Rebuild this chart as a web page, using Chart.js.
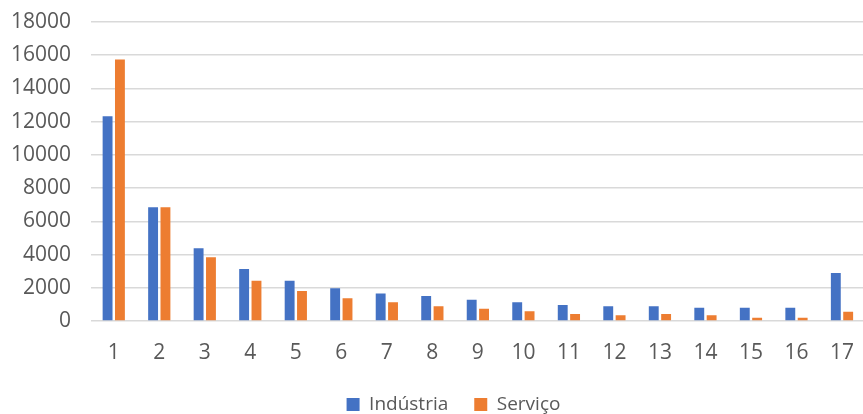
<!DOCTYPE html>
<html>
<head>
<meta charset="utf-8">
<script src="https://cdn.jsdelivr.net/npm/chart.js@4/dist/chart.umd.min.js"></script>
<style>
  html, body { margin: 0; padding: 0; background: #ffffff; overflow: hidden; }
  #wrap { width: 863px; height: 414px; overflow: hidden; }
  canvas { display: block; }
</style>
</head>
<body>
<div id="wrap"><canvas id="chart" width="873" height="414"></canvas></div>
<script>
// Categories along the x axis
const categories = ['1', '2', '3', '4', '5', '6', '7', '8', '9', '10', '11', '12', '13', '14', '15', '16', '17'];

// Series values
const industria = [12320, 6850, 4380, 3135, 2430, 1970, 1650, 1510, 1285, 1125, 965, 885, 885, 805, 805, 805, 2895];
const servico   = [15740, 6850, 3840, 2430, 1810, 1370, 1125, 885, 740, 585, 420, 345, 420, 345, 200, 200, 560];

// Series names
const seriesNames = ['Indústria', 'Serviço'];

// Value axis settings
const yMin = 0;
const yMax = 18000;
const yStep = 2000;

const textColor = '#595959';
const gridColor = '#d9d9d9';
const fontFamily = '"Open Sans", "Noto Sans", sans-serif';

// Nudges the legend block sideways after layout so it sits centred under the plot
const legendNudge = {
  id: 'legendNudge',
  afterLayout(chart, args, opts) {
    const lg = chart.legend;
    if (lg) {
      lg.left += opts.dx || 0;
      lg.right += opts.dx || 0;
    }
  }
};

new Chart(document.getElementById('chart'), {
  type: 'bar',
  data: {
    labels: categories,
    datasets: [
      {
        label: seriesNames[0],
        data: industria,
        backgroundColor: '#4472C4',
        borderWidth: 0,
        categoryPercentage: 0.543,
        barPercentage: 0.8
      },
      {
        label: seriesNames[1],
        data: servico,
        backgroundColor: '#ED7D31',
        borderWidth: 0,
        categoryPercentage: 0.543,
        barPercentage: 0.8
      }
    ]
  },
  plugins: [legendNudge],
  options: {
    responsive: false,
    animation: false,
    devicePixelRatio: 1,
    layout: { padding: { left: 0, right: 0, top: 22, bottom: 0 } },
    plugins: {
      tooltip: { enabled: false },
      legendNudge: { dx: 17 },
      legend: {
        position: 'bottom',
        align: 'center',
        maxHeight: 45,
        labels: {
          boxWidth: 13,
          boxHeight: 13,
          padding: 26,
          color: textColor,
          font: { family: fontFamily, size: 19 }
        }
      }
    },
    scales: {
      x: {
        offset: true,
        grid: { display: false, drawTicks: false },
        border: { display: false },
        ticks: {
          color: textColor,
          padding: 19,
          maxRotation: 0,
          autoSkip: false,
          font: { family: fontFamily, size: 21 }
        },
        afterFit: (scale) => { scale.height = 48; }
      },
      y: {
        min: yMin,
        max: yMax,
        grid: { color: gridColor, lineWidth: 1.5, drawTicks: false },
        border: { display: false },
        ticks: {
          stepSize: yStep,
          color: textColor,
          padding: 20,
          font: { family: fontFamily, size: 21 },
          callback: (value) => String(value)
        },
        afterFit: (scale) => {
          scale.width = 91;
          scale.paddingTop = 0;
          scale.paddingBottom = 0;
        }
      }
    }
  }
});
</script>
</body>
</html>
